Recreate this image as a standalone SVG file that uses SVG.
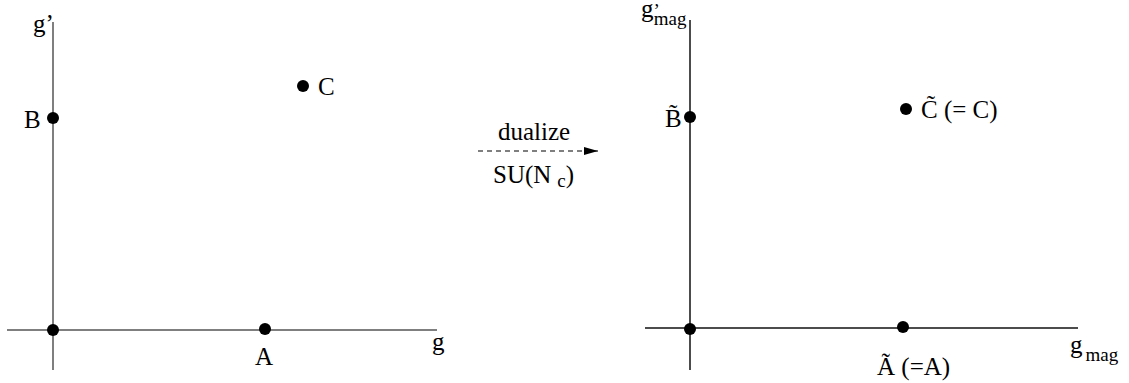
<svg xmlns="http://www.w3.org/2000/svg" width="1129" height="383" viewBox="0 0 1129 383">
<style>
text{font-family:'Liberation Serif','Times New Roman',serif;font-size:25px;fill:#000}
.sub{font-size:19px}
.axL{stroke:#555;stroke-width:1.5;fill:none}
.axR{stroke:#111;stroke-width:1.5;fill:none}
.dot{fill:#000}
</style>
<defs>
<marker id="ah" markerWidth="14" markerHeight="8" refX="14" refY="4" orient="auto" markerUnits="userSpaceOnUse">
<path d="M0,0 L14,4 L0,8 Z" fill="#000"/>
</marker>
</defs>
<g id="left-axes">
<line class="axL" x1="53" y1="22" x2="53" y2="370"/>
<line class="axL" x1="7" y1="330" x2="437" y2="330"/>
<text x="33" y="32">g’</text>
<text x="432" y="350">g</text>
</g>
<g id="node-B"><circle class="dot" cx="53" cy="118" r="6"/><text x="24" y="128">B</text></g>
<g id="node-O1"><circle class="dot" cx="53" cy="330" r="6"/></g>
<g id="node-A"><circle class="dot" cx="265" cy="329" r="6"/><text x="255" y="365">A</text></g>
<g id="node-C"><circle class="dot" cx="303" cy="86" r="6"/><text x="318" y="95">C</text></g>

<g id="right-axes">
<line class="axR" x1="690" y1="20" x2="690" y2="370"/>
<line class="axR" x1="645" y1="328" x2="1078" y2="328"/>
<text x="641" y="17">g<tspan class="sub">’</tspan><tspan class="sub" dx="-6" dy="8">mag</tspan></text>
<text x="1070" y="353">g<tspan class="sub" dx="3" dy="8">mag</tspan></text>
</g>
<g id="node-Bt"><circle class="dot" cx="690" cy="117" r="6"/><text x="665" y="127">B̃</text></g>
<g id="node-O2"><circle class="dot" cx="690" cy="329" r="6"/></g>
<g id="node-At"><circle class="dot" cx="903" cy="327" r="6"/><text x="877" y="375">Ã (=A)</text></g>
<g id="node-Ct"><circle class="dot" cx="906" cy="109" r="6"/><text x="921" y="118">C̃ (= C)</text></g>

<g id="connectors">
<line x1="478" y1="151" x2="598" y2="151" stroke="#000" stroke-width="1.2" stroke-dasharray="5,4" marker-end="url(#ah)"/>
<text x="498" y="140">dualize</text>
<text x="493" y="183">SU(N<tspan dx="6" dy="4" class="sub">c</tspan><tspan dy="-4">)</tspan></text>
</g>
</svg>
